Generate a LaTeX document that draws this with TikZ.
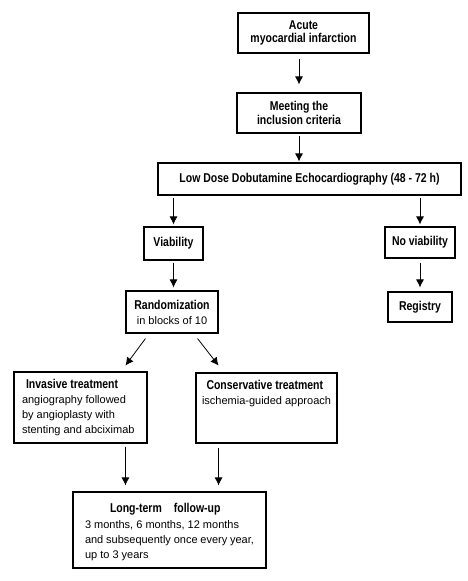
\documentclass[tikz,border=0pt]{standalone}
\usepackage{fontspec}
\setmainfont{Liberation Sans}
\newfontfamily\hd[FakeStretch=0.82]{Liberation Sans}
\usetikzlibrary{positioning,arrows.meta}
\newcommand{\titlefont}{\fontsize{12.8}{13.5}\selectfont\hd\bfseries}

\begin{document}
\begin{tikzpicture}[on grid, font=\fontsize{11}{15}\selectfont,
box/.style ={ draw, line width=1.1pt, inner sep=0pt, align=center},
title/.style ={ box, font=\titlefont},
arrow/.style ={ -{Latex[length=8pt,width=8pt]}, line width=0.8pt}]
\useasboundingbox (0,0) rectangle (468pt,-581pt);
\node[title, minimum width=131pt, minimum height=40pt] (Acute) at (303.5pt,-33pt) {Acute\\myocardial infarction};
\node[title, minimum width=124pt, minimum height=40pt] (Meeting) [below=80pt of Acute, xshift=-4.5pt] {Meeting the\\inclusion criteria};
\node[title, minimum width=303pt, minimum height=32pt] (Dobutamine) [below=66pt of Meeting, xshift=10.5pt] {Low Dose Dobutamine Echocardiography (48 - 72 h)};
\node[title, minimum width=59pt, minimum height=33pt] (Viability) [below left=64.5pt and 136pt of Dobutamine] {Viability};
\node[title, minimum width=70pt, minimum height=31pt] (NoViability) [below right=63.5pt and 110.5pt of Dobutamine] {No viability};
\node[box, minimum width=92pt, minimum height=42pt] (Random) [below=68.5pt of Viability, xshift=-1.5pt] {{\titlefont Randomization}\\in blocks of 10};
\node[title, minimum width=64pt, minimum height=30pt] (Registry) [below=64.5pt of NoViability] {Registry};
\node[box, inner xsep=8pt, inner ysep=7pt] (Invasive) [below left=95.5pt and 91.5pt of Random] {\parbox[c][57pt][t]{117pt}{\raggedright{\titlefont\hspace*{4pt}Invasive treatment}\\angiography followed\\by angioplasty with\\stenting and abciximab}};
\node[box, inner xsep=4pt, inner ysep=7pt] (Conservative) [below right=96pt and 94.5pt of Random] {\parbox[c][56pt][t]{133pt}{\raggedright{\titlefont\hspace*{6.5pt}Conservative treatment}\\\hspace*{2pt}ischemia-guided approach}};
\node[box, inner xsep=12pt, inner ysep=11pt] (LongTerm) [below right=122.5pt and 89pt of Invasive] {\parbox[c][54pt][t]{169pt}{\raggedright{\titlefont\hspace*{25pt}Long-term\hspace{12pt}follow-up}\\[1.7pt]3 months, 6 months, 12 months\\and subsequently once every year,\\up to 3 years}};

\path (Random.south west) ++(20pt,-5pt) coordinate (RandLeft);
\path (Random.south west) ++(0,-32pt) coordinate (InvTip);
\path (Random.south east) ++(-21pt,-5pt) coordinate (RandRight);
\path (Random.south east) ++(0,-32pt) coordinate (ConsTip);

\draw[arrow, shorten <=5pt, shorten >=8pt] (Meeting.north |- Acute.south) -- (Meeting.north);
\draw[arrow, shorten <=2pt, shorten >=1pt] (Meeting.south) -- (Meeting.south |- Dobutamine.north);
\draw[arrow, shorten <=2pt, shorten >=2pt] (Dobutamine.south -| Viability.north) -- (Viability.north);
\draw[arrow, shorten <=2pt, shorten >=2pt] (Dobutamine.south -| NoViability.north) -- (NoViability.north);
\draw[arrow, shorten <=2pt, shorten >=3pt] (Viability.south) -- (Viability.south |- Random.north);
\draw[arrow, shorten <=4pt, shorten >=4pt] (NoViability.south) -- (Registry.north);
\draw[arrow] (RandLeft) -- (InvTip);
\draw[arrow] (RandRight) -- (ConsTip);
\draw[arrow, shorten <=3pt, shorten >=6pt] (Invasive.south -| InvTip) -- (LongTerm.north -| InvTip);
\draw[arrow, shorten <=4pt, shorten >=6pt] (Conservative.south -| ConsTip) -- (LongTerm.north -| ConsTip);
\end{tikzpicture}
\end{document}
